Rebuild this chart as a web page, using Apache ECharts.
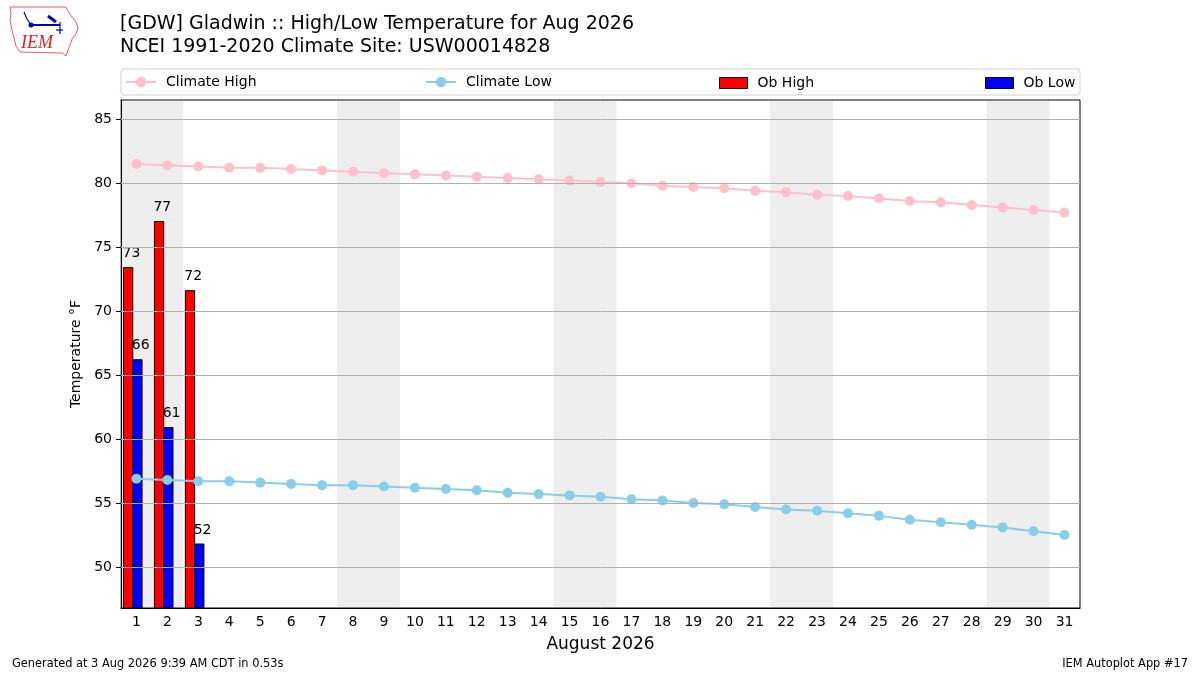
<!DOCTYPE html>
<html>
<head>
    <title>Gladwin High/Low</title>
    <meta charset="utf-8">
    <script type="text/javascript" src="https://cdn.jsdelivr.net/npm/echarts@6/dist/echarts.min.js"></script>
    <style>
        html, body { margin: 0; padding: 0; background: #fff; }
    </style>
</head>
<body>
    <div id="main" style="width:1200px; height:675px;"></div>
    <script type="text/javascript">
        // days of August 2026
        const days = ['1','2','3','4','5','6','7','8','9','10','11','12','13','14','15','16',
                      '17','18','19','20','21','22','23','24','25','26','27','28','29','30','31'];
        const climateHigh = [81.5, 81.4, 81.3, 81.2, 81.2, 81.1, 81.0, 80.9, 80.8, 80.7, 80.6,
                             80.5, 80.4, 80.3, 80.2, 80.1, 80.0, 79.8, 79.7, 79.6, 79.4, 79.3,
                             79.1, 79.0, 78.8, 78.6, 78.5, 78.3, 78.1, 77.9, 77.7];
        const climateLow = [56.9, 56.8, 56.7, 56.7, 56.6, 56.5, 56.4, 56.4, 56.3, 56.2, 56.1,
                            56.0, 55.8, 55.7, 55.6, 55.5, 55.3, 55.2, 55.0, 54.9, 54.7, 54.5,
                            54.4, 54.2, 54.0, 53.7, 53.5, 53.3, 53.1, 52.8, 52.5];
        const obHigh = [73.4, 77.0, 71.6];
        const obLow = [66.2, 60.9, 51.8];
        const weekendDays = [1, 2, 8, 9, 15, 16, 22, 23, 29, 30];
        const yTicks = [50, 55, 60, 65, 70, 75, 80, 85];
        const yMin = 46.8, yMax = 86.5;

        const FONT = 'DejaVu Sans';
        const chart = echarts.init(document.getElementById('main'));

        function barRender(offset, color) {
            return function (params, api) {
                const top = api.coord([api.value(0), api.value(1)]);
                const bw = api.size([1, 0])[0];
                const cs = params.coordSys;
                const x0 = top[0] + offset * bw;
                return {
                    type: 'group',
                    children: [{
                        type: 'rect',
                        shape: { x: x0, y: top[1], width: 0.3 * bw, height: cs.y + cs.height - top[1] },
                        style: { fill: color, stroke: '#000', lineWidth: 1 }
                    }, {
                        type: 'text',
                        style: {
                            text: String(Math.round(api.value(1))),
                            x: x0 - 1, y: top[1] - 7,
                            textAlign: 'left', textVerticalAlign: 'bottom',
                            fill: '#000', font: '14px ' + FONT
                        }
                    }]
                };
            };
        }

        const legendText = { fontSize: 14, color: '#000', padding: [0, 0, 0, 5] };

        const option = {
            animation: false,
            backgroundColor: '#fff',
            textStyle: { fontFamily: FONT },
            grid: { left: 121, right: 120, top: 100, bottom: 67, show: true, borderColor: '#000', borderWidth: 1 },
            legend: [
                { data: ['Climate High'], left: 120, top: 70, itemWidth: 30, itemHeight: 13, textStyle: legendText },
                { data: ['Climate Low'], left: 420, top: 70, itemWidth: 30, itemHeight: 13, textStyle: legendText },
                { data: [{ name: 'Ob High', icon: 'rect', itemStyle: { color: '#ff0000', borderColor: '#000', borderWidth: 1 } }],
                  left: 714, top: 71, itemWidth: 28, itemHeight: 11, textStyle: legendText },
                { data: [{ name: 'Ob Low', icon: 'rect', itemStyle: { color: '#0000ff', borderColor: '#000', borderWidth: 1 } }],
                  left: 980, top: 71, itemWidth: 28, itemHeight: 11, textStyle: legendText }
            ],
            xAxis: {
                type: 'category',
                data: days,
                boundaryGap: true,
                name: 'August 2026',
                nameLocation: 'middle',
                nameGap: 28,
                nameTextStyle: { fontSize: 17, color: '#000' },
                axisLine: { lineStyle: { color: '#000' } },
                axisTick: { alignWithLabel: true, length: 5, lineStyle: { color: '#000' } },
                axisLabel: { fontSize: 14, color: '#000', margin: 7, interval: 0 },
                splitLine: { show: false }
            },
            yAxis: {
                type: 'value',
                min: yMin,
                max: yMax,
                name: 'Temperature °F',
                nameLocation: 'middle',
                nameGap: 37,
                nameTextStyle: { fontSize: 14, color: '#000' },
                axisLine: { show: true, lineStyle: { color: '#000' } },
                axisTick: { show: true, length: 5, customValues: yTicks, lineStyle: { color: '#000' } },
                axisLabel: { fontSize: 14, color: '#000', margin: 9, customValues: yTicks },
                splitLine: { show: false }
            },
            graphic: [
                { type: 'rect', z: 0, shape: { x: 121, y: 69, width: 959, height: 26, r: 3 },
                  style: { fill: '#fff', stroke: '#d0d0d0', lineWidth: 1 } },
                { type: 'text', left: 120, top: 15,
                  style: { text: '[GDW] Gladwin :: High/Low Temperature for Aug 2026', font: '19px ' + FONT, fill: '#000' } },
                { type: 'text', left: 120, top: 38,
                  style: { text: 'NCEI 1991-2020 Climate Site: USW00014828', font: '19px ' + FONT, fill: '#000' } },
                { type: 'text', left: 12, top: 659,
                  style: { text: 'Generated at 3 Aug 2026 9:39 AM CDT in 0.53s', font: '11.4px ' + FONT, fill: '#000' } },
                { type: 'text', right: 12, top: 659,
                  style: { text: 'IEM Autoplot App #17', font: '11.4px ' + FONT, fill: '#000' } },
                // IEM logo
                { type: 'polygon',
                  shape: { points: [[10,7],[66,7],[68,11],[72,17],[76,22],[78,28],[76,34],[72,39],[70,45],[68,50],[66,56],[62,53],[20,52],[16,46],[14,38],[12,30],[10,20],[11,13]] },
                  style: { fill: 'none', stroke: '#e06060', lineWidth: 1 } },
                { type: 'polyline', shape: { points: [[31,25],[60,25]] }, style: { stroke: '#0000cc', lineWidth: 2 } },
                { type: 'circle', shape: { cx: 31, cy: 25, r: 2.5 }, style: { fill: '#0000cc' } },
                { type: 'polyline', shape: { points: [[24,12],[27,19],[31,25]] }, style: { stroke: '#0000cc', lineWidth: 1.2 } },
                { type: 'polyline', shape: { points: [[48,16],[56,22]] }, style: { stroke: '#0000cc', lineWidth: 3 } },
                { type: 'polyline', shape: { points: [[60,22],[60,34]] }, style: { stroke: '#0000cc', lineWidth: 1.2 } },
                { type: 'polyline', shape: { points: [[56,30],[63,30]] }, style: { stroke: '#0000cc', lineWidth: 1.2 } },
                { type: 'text', left: 21, top: 34,
                  style: { text: 'IEM', font: 'italic 18px "Liberation Serif"', fill: '#dd2222' } }
            ],
            series: [
                {
                    name: 'weekend',
                    type: 'custom',
                    z: 0,
                    silent: true,
                    data: weekendDays.map(d => [d - 1]),
                    renderItem: function (params, api) {
                        const cs = params.coordSys;
                        const c = api.coord([api.value(0), yMax]);
                        const bw = api.size([1, 0])[0];
                        return {
                            type: 'rect',
                            shape: { x: c[0] - bw / 2 - 0.5, y: cs.y + 1, width: bw + 1, height: cs.height - 2 },
                            style: { fill: '#eeeeee' }
                        };
                    }
                },
                {
                    name: 'grid',
                    type: 'line',
                    z: 1,
                    silent: true,
                    data: [],
                    markLine: {
                        silent: true,
                        symbol: 'none',
                        label: { show: false },
                        lineStyle: { color: '#b0b0b0', type: 'solid', width: 1 },
                        data: yTicks.map(v => ({ yAxis: v }))
                    }
                },
                {
                    name: 'Ob High',
                    type: 'custom',
                    z: 2,
                    data: obHigh.map((v, i) => [i, v]),
                    renderItem: barRender(-0.42, '#ff0000')
                },
                {
                    name: 'Ob Low',
                    type: 'custom',
                    z: 2,
                    data: obLow.map((v, i) => [i, v]),
                    renderItem: barRender(-0.12, '#0000ff')
                },
                {
                    name: 'Climate High',
                    type: 'line',
                    z: 3,
                    data: climateHigh,
                    symbol: 'circle',
                    symbolSize: 10,
                    itemStyle: { color: '#ffc0cb' },
                    lineStyle: { color: '#ffc0cb', width: 2 }
                },
                {
                    name: 'Climate Low',
                    type: 'line',
                    z: 3,
                    data: climateLow,
                    symbol: 'circle',
                    symbolSize: 10,
                    itemStyle: { color: '#87ceeb' },
                    lineStyle: { color: '#87ceeb', width: 2 }
                }
            ]
        };
        chart.setOption(option);
    </script>
</body>
</html>
